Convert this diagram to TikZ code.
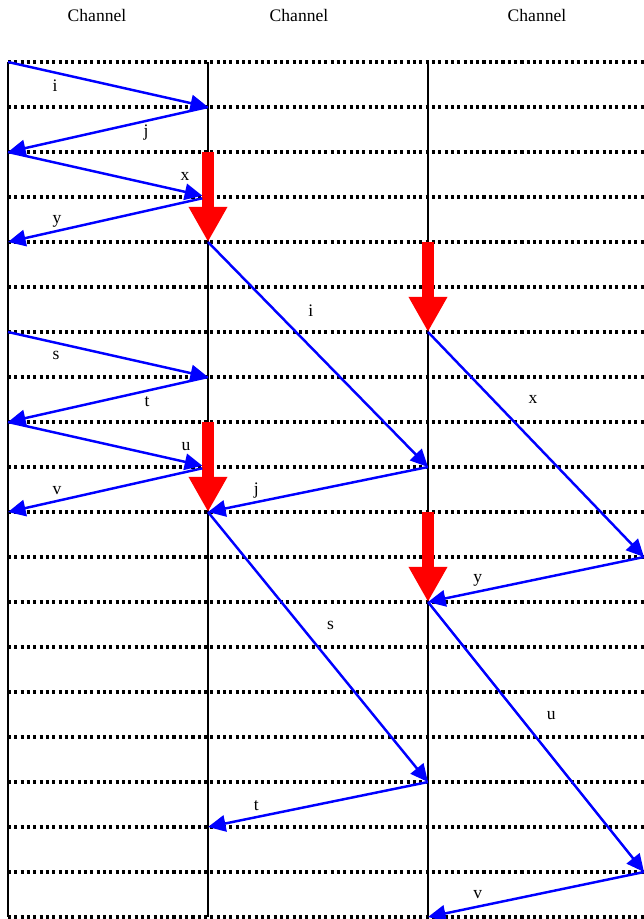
\documentclass[tikz,border=0pt]{standalone}
\usepackage{fontspec}
\setmainfont{Liberation Serif}
\usepackage{tikz}
\usetikzlibrary{arrows.meta,positioning,calc}
\definecolor{MsgBlue}{RGB}{0,0,255}
\definecolor{LockRed}{RGB}{255,0,0}
\tikzset{
    chanlabel/.style={font=\fontsize{15}{18}\selectfont, inner sep=0pt},
    lbl/.style={font=\fontsize{15}{18}\selectfont, inner sep=0pt, text=black},
    gridline/.style={line width=2.6pt, dash pattern=on 2.6pt off 2.8pt, black},
    wire/.style={line width=1.3pt, black},
    msg/.style={-{Triangle[length=15pt,width=14pt]}, line width=2.1pt, MsgBlue},
    lock/.style={-{Triangle[length=30pt,width=31pt]}, line width=10.8pt, LockRed},
}
\begin{document}
\begin{tikzpicture}[x=0.03cm, y=-0.03cm]
\useasboundingbox (0,0) rectangle (644,919);
% grid of event points, rows every 45px
\foreach \c/\x in {A/8,B/208,C/428,D/644}{
  \foreach \r in {0,...,19}{
    \coordinate (\c\r) at (\x,{62+45*\r});
  }
}
\node[chanlabel] (ch1) at (97,15) {Channel};
\node[chanlabel] (ch2) at (299,15) {Channel};
\node[chanlabel] (ch3) at (537,15) {Channel};

\foreach \r in {0,...,19} \draw[gridline] (A\r) -- (D\r);
\foreach \c in {A,B,C} \draw[wire] (\c0) -- (\c19);

\draw[lock] (B2) -- (B4);
\draw[lock] (C4) -- (C6);
\draw[lock] (B8) -- (B10);
\draw[lock] (C10) -- (C12);

\draw[msg] (A0) -- node[lbl,pos=.235,yshift=-11pt]{i} (B1);
\draw[msg] (B1) -- node[lbl,pos=.31,yshift=-10pt]{j} (A2);
\draw[msg,shorten >=5pt] (A2) -- node[lbl,pos=.885,yshift=13pt]{x} (B3);
\draw[msg,shorten <=5pt] (B3) -- node[lbl,pos=.755,yshift=8pt]{y} (A4);
\draw[msg] (A6) -- node[lbl,pos=.24,yshift=-11pt]{s} (B7);
\draw[msg] (B7) -- node[lbl,pos=.305,yshift=-9pt]{t} (A8);
\draw[msg,shorten >=5pt] (A8) -- node[lbl,pos=.89,yshift=13pt]{u} (B9);
\draw[msg,shorten <=5pt] (B9) -- node[lbl,pos=.755,yshift=9pt]{v} (A10);

\draw[msg] (B4) -- node[lbl,pos=.307,xshift=30pt]{i} (C9);
\draw[msg] (C6) -- node[lbl,pos=.302,xshift=34pt]{x} (D11);
\draw[msg] (C9) -- node[lbl,pos=.78,yshift=10pt]{j} (B10);
\draw[msg] (B10) -- node[lbl,pos=.419,xshift=26pt]{s} (C16);
\draw[msg] (D11) -- node[lbl,pos=.77,yshift=10pt]{y} (C12);
\draw[msg] (C12) -- node[lbl,pos=.419,xshift=28pt]{u} (D18);
\draw[msg] (C16) -- node[lbl,pos=.78,yshift=10pt]{t} (B17);
\draw[msg] (D18) -- node[lbl,pos=.77,yshift=10pt]{v} (C19);
\end{tikzpicture}
\end{document}
